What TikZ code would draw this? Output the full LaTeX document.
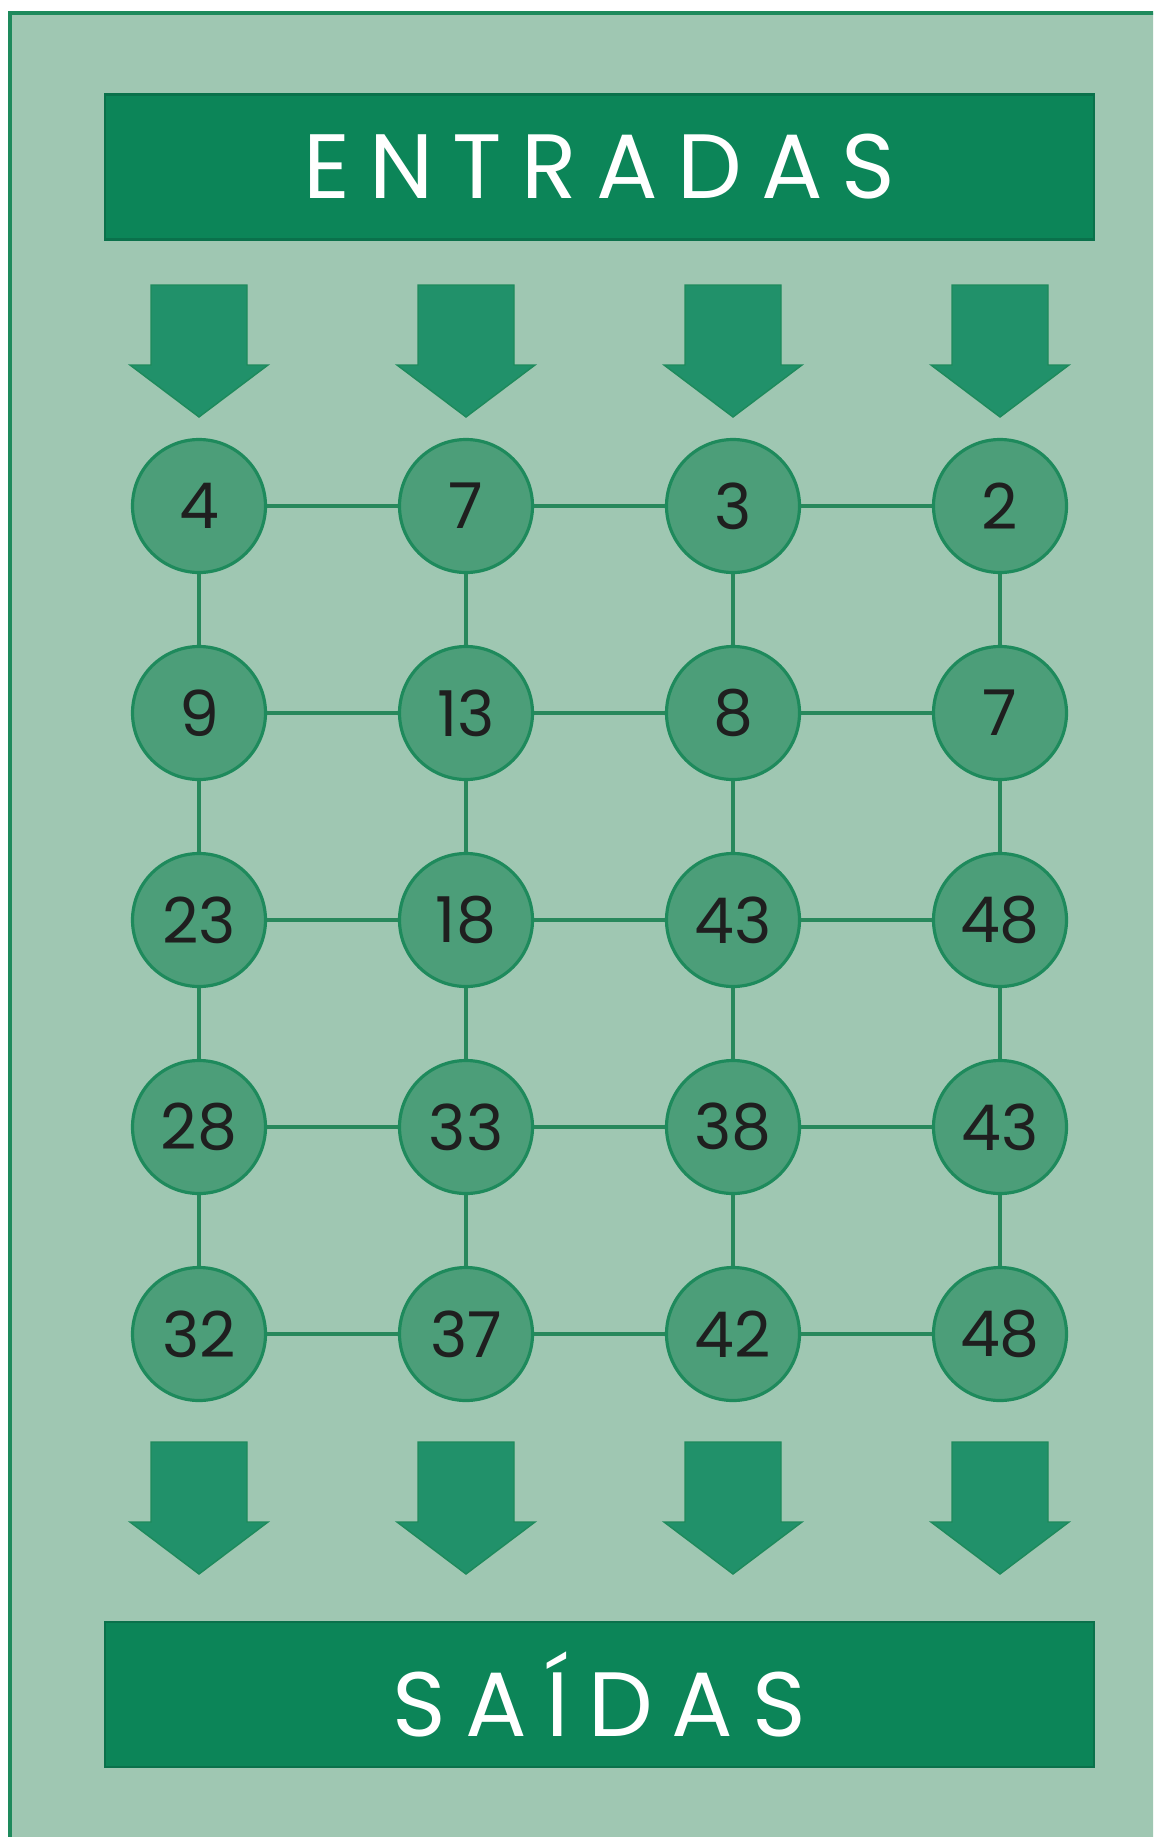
\documentclass[tikz,border=0pt]{standalone}
\usepackage{fontspec}
\setmainfont{Poppins}
\usepackage{tikz}

\definecolor{pagegreen}{HTML}{9FC7B2}
\definecolor{framegreen}{HTML}{1E8A5C}
\definecolor{bannergreen}{HTML}{0C8558}
\definecolor{arrowgreen}{HTML}{21916A}
\definecolor{dotgreen}{HTML}{4C9E79}
\definecolor{linkgreen}{HTML}{28885C}

\begin{document}
\begin{tikzpicture}[x=0.1mm,y=-0.1mm,
  banner/.style={fill=bannergreen,draw=bannergreen!85!black,line width=0.6pt,
    minimum width=98.9mm,minimum height=14.5mm,text=white,
    font=\fontsize{26}{30}\selectfont\addfontfeature{LetterSpace=21}},
  numdot/.style={circle,fill=dotgreen,draw=framegreen,line width=0.9pt,
    minimum size=13.3mm,inner sep=0pt,text=black!88,
    font=\fontsize{18}{20}\selectfont},
  link/.style={linkgreen,line width=1.2pt},
  blockarrow/.style={fill=arrowgreen,draw=framegreen,line width=0.4pt}]
  \useasboundingbox (0,0) rectangle (1153,1837);
  \clip (0,0) rectangle (1153,1837);
  % page
  \fill[white] (0,0) rectangle (1153,1837);
  \draw[fill=pagegreen,draw=framegreen,line width=0.9pt] (10,13) rectangle (1180,1870);
  % banners
  \node[banner] (entradas) at (599.5,167) {ENTRADAS};
  \node[banner] (saidas) at (599.5,1694.5) {SAÍDAS};
  % block arrows in and out
  \foreach \c in {0,...,3} {
    \coordinate (in\c) at ({199+267*\c},285);
    \coordinate (out\c) at ({199+267*\c},1442);
    \draw[blockarrow] (in\c) ++(-48,0) -- ++(0,80) -- ++(-21,0) -- ++(69,52)
      -- ++(69,-52) -- ++(-21,0) -- ++(0,-80) -- cycle;
    \draw[blockarrow] (out\c) ++(-48,0) -- ++(0,80) -- ++(-21,0) -- ++(69,52)
      -- ++(69,-52) -- ++(-21,0) -- ++(0,-80) -- cycle;
  }
  % grid of numbers
  \foreach \v [count=\k from 0] in {4,7,3,2,9,13,8,7,23,18,43,48,28,33,38,43,32,37,42,48} {
    \pgfmathtruncatemacro\c{mod(\k,4)}
    \pgfmathtruncatemacro\r{div(\k,4)}
    \node[numdot] (n\r\c) at ({199+267*\c},{506+207*\r}) {\v};
  }
  \foreach \r in {0,...,4} {
    \foreach \c/\d in {0/1,1/2,2/3} {\draw[link] (n\r\c) -- (n\r\d);}
  }
  \foreach \r/\s in {0/1,1/2,2/3,3/4} {
    \foreach \c in {0,...,3} {\draw[link] (n\r\c) -- (n\s\c);}
  }
\end{tikzpicture}
\end{document}
